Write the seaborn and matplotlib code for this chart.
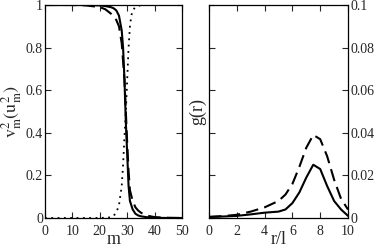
import numpy as np
import pandas as pd
import matplotlib
matplotlib.use('Agg')
import matplotlib.pyplot as plt
import seaborn as sns

# left panel: occupation vs m
m_solid = [0, 5, 10, 15, 20, 22, 24, 25, 26, 27, 28, 28.5, 29, 29.5, 30, 30.5, 31, 32, 33, 34, 35, 37, 40, 45, 50]
v_solid = [1, 1, 1, 1, 0.998, 0.995, 0.99, 0.985, 0.975, 0.95, 0.88, 0.8, 0.65, 0.45, 0.3, 0.15, 0.08, 0.04, 0.02, 0.012, 0.008, 0.004, 0.001, 0, 0]

m_dash = [0, 5, 10, 15, 20, 22, 24, 26, 27, 28, 29, 29.5, 30, 30.5, 31, 32, 33, 34, 35, 37, 40, 45, 50]
v_dash = [1, 1, 1, 0.998, 0.99, 0.98, 0.96, 0.93, 0.9, 0.82, 0.65, 0.5, 0.35, 0.22, 0.13, 0.08, 0.05, 0.035, 0.025, 0.012, 0.004, 0.001, 0]

m_dot = [0, 10, 20, 24, 25, 26, 27, 28, 28.5, 29, 29.5, 30, 30.5, 31, 31.5, 32, 33, 35, 40, 50]
u_dot = [0, 0, 0, 0.003, 0.01, 0.025, 0.06, 0.15, 0.25, 0.38, 0.5, 0.65, 0.8, 0.9, 0.95, 0.975, 0.99, 1, 1, 1]

# right panel: g(r)
r_vals = [0, 1, 2, 3, 4, 5, 5.5, 6, 6.5, 7, 7.5, 8, 8.5, 9, 9.5, 10]
g_solid = [0.0005, 0.0007, 0.001, 0.0017, 0.0025, 0.003, 0.004, 0.007, 0.012, 0.019, 0.025, 0.023, 0.015, 0.008, 0.004, 0.001]
g_dash = [0.0005, 0.0009, 0.0015, 0.003, 0.005, 0.008, 0.011, 0.016, 0.024, 0.033, 0.039, 0.037, 0.029, 0.018, 0.009, 0.004]

left_xticks = [0, 10, 20, 30, 40, 50]
left_yticks = [0, 0.2, 0.4, 0.6, 0.8, 1]
left_ylabels = ['0', '0.2', '0.4', '0.6', '0.8', '1']
right_xticks = [0, 2, 4, 6, 8, 10]
right_yticks = [0, 0.02, 0.04, 0.06, 0.08, 0.1]
right_ylabels = ['0', '0.02', '0.04', '0.06', '0.08', '0.1']

sns.set_style('ticks')
plt.rcParams['font.family'] = ['Liberation Serif', 'DejaVu Serif']
plt.rcParams['mathtext.fontset'] = 'stix'

fig = plt.figure(figsize=(3.74, 2.47), dpi=100)
ax1 = fig.add_axes([45/374, 1-218/247, 137/374, 213/247])
ax2 = fig.add_axes([209/374, 1-218/247, 139/374, 213/247])

sns.lineplot(x=m_solid, y=v_solid, ax=ax1, color='black', lw=1.5)
sns.lineplot(x=m_dash, y=v_dash, ax=ax1, color='black', lw=1.5, linestyle=(0, (6, 3)))
sns.lineplot(x=m_dot, y=u_dot, ax=ax1, color='black', lw=1.3, linestyle=(0, (1, 2.5)))

sns.lineplot(x=r_vals, y=g_solid, ax=ax2, color='black', lw=1.5)
sns.lineplot(x=r_vals, y=g_dash, ax=ax2, color='black', lw=1.5, linestyle=(0, (6, 3)))

for ax in (ax1, ax2):
    ax.tick_params(direction='in', top=True, right=True, left=True, bottom=True,
                   length=4, width=0.8, labelsize=10, pad=1.5)
    ax.tick_params(axis='x', pad=5)
    for s in ax.spines.values():
        s.set_linewidth(0.9)
        s.set_color('black')

ax1.set_xlim(0, 50)
ax1.set_ylim(0, 1)
ax1.set_xticks(left_xticks)
ax1.set_yticks(left_yticks)
ax1.set_yticklabels(left_ylabels)
ax1.set_xlabel('m', fontsize=13, labelpad=-5)
ax1.set_ylabel(r'$\mathrm{v^2_m(u^2_m)}$', fontsize=13, labelpad=1)

ax2.set_xlim(0, 10)
ax2.set_ylim(0, 0.1)
ax2.set_xticks(right_xticks)
ax2.set_yticks(right_yticks)
ax2.set_yticklabels(right_ylabels)
ax2.tick_params(labelleft=False, labelright=True)
ax2.set_xlabel('r/l', fontsize=13, labelpad=-5)
ax2.set_ylabel('g(r)', fontsize=13, labelpad=2)

fig.savefig('out.png', dpi=100)
